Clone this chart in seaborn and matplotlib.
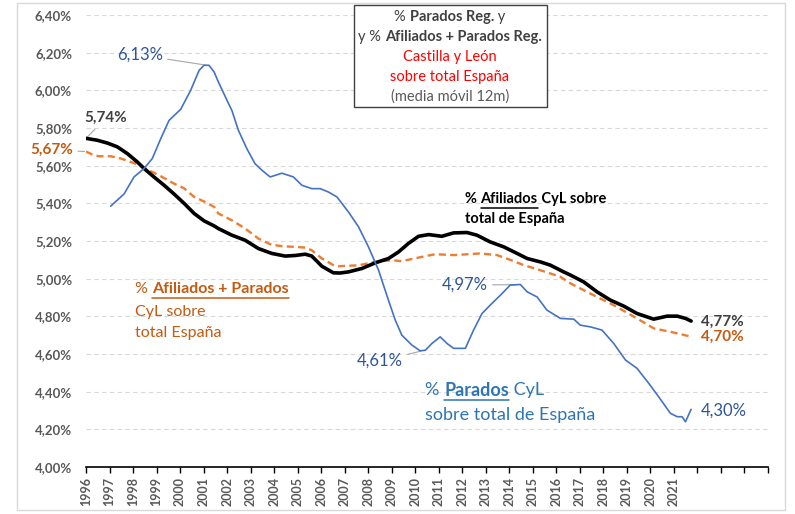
import matplotlib
matplotlib.use("Agg")
import matplotlib.pyplot as plt
import seaborn as sns
from matplotlib.lines import Line2D
from matplotlib.patches import Rectangle

# % Afiliados CyL sobre total de España (media móvil 12m)
afil_x = [1996.00, 1996.48, 1996.91, 1997.33, 1997.76, 1998.18, 1998.47, 1998.89, 1999.32,
          1999.74, 2000.17, 2000.60, 2001.02, 2001.45, 2001.63, 2002.20, 2002.77, 2003.33,
          2003.90, 2004.47, 2004.89, 2005.32, 2005.60, 2006.03, 2006.52, 2006.80, 2007.16,
          2007.73, 2008.30, 2008.86, 2009.29, 2009.71, 2010.14, 2010.57, 2011.13, 2011.63,
          2012.20, 2012.62, 2013.19, 2013.76, 2014.33, 2014.76, 2015.32, 2015.74, 2016.31,
          2016.60, 2017.16, 2017.73, 2018.30, 2018.87, 2019.43, 2020.14, 2020.71, 2021.14,
          2021.49, 2021.73]
afil_y = [5.745, 5.735, 5.720, 5.700, 5.664, 5.620, 5.585, 5.540, 5.496,
          5.450, 5.400, 5.346, 5.307, 5.280, 5.266, 5.231, 5.204, 5.160,
          5.134, 5.120, 5.123, 5.130, 5.120, 5.066, 5.031, 5.030, 5.036,
          5.054, 5.084, 5.107, 5.142, 5.187, 5.225, 5.234, 5.225, 5.243,
          5.245, 5.231, 5.195, 5.169, 5.134, 5.107, 5.089, 5.072, 5.036,
          5.019, 4.983, 4.930, 4.886, 4.854, 4.815, 4.785, 4.801, 4.801,
          4.789, 4.775]

# % Afiliados + Parados CyL sobre total España
ap_x = [1996.00, 1996.34, 1996.55, 1997.05, 1997.48, 1998.04, 1998.61, 1999.18, 1999.74,
        2000.17, 2000.60, 2001.02, 2001.45, 2001.63, 2002.20, 2002.77, 2003.33, 2003.83,
        2004.33, 2004.89, 2005.32, 2005.60, 2006.03, 2006.52, 2006.74, 2007.59, 2008.30,
        2009.00, 2009.43, 2010.14, 2010.85, 2011.63, 2012.77, 2013.48, 2014.04, 2014.61,
        2015.32, 2016.17, 2016.60, 2017.16, 2017.73, 2018.30, 2018.87, 2019.43, 2020.14,
        2020.85, 2021.63, 2021.73]
ap_y = [5.675, 5.655, 5.650, 5.650, 5.638, 5.614, 5.580, 5.544, 5.505,
        5.480, 5.434, 5.410, 5.381, 5.346, 5.310, 5.266, 5.213, 5.183,
        5.172, 5.169, 5.165, 5.151, 5.107, 5.072, 5.066, 5.071, 5.089,
        5.098, 5.093, 5.112, 5.130, 5.125, 5.134, 5.125, 5.100, 5.072,
        5.045, 5.010, 4.975, 4.939, 4.903, 4.868, 4.829, 4.789, 4.736,
        4.718, 4.695, 4.695]

# % Parados CyL sobre total de España
par_x = [1997.05, 1997.62, 1998.04, 1998.47, 1998.82, 1999.18, 1999.53, 2000.03, 2000.45,
         2000.81, 2001.02, 2001.23, 2001.45, 2001.63, 2002.06, 2002.20, 2002.48, 2002.84,
         2003.19, 2003.48, 2003.83, 2004.33, 2004.82, 2005.18, 2005.60, 2005.96, 2006.31,
         2006.67, 2007.16, 2007.59, 2008.01, 2008.44, 2008.86, 2009.15, 2009.43, 2009.86,
         2010.21, 2010.43, 2010.71, 2011.06, 2011.35, 2011.63, 2012.13, 2012.48, 2012.84,
         2013.19, 2013.62, 2014.04, 2014.47, 2014.76, 2015.18, 2015.60, 2016.17, 2016.74,
         2017.02, 2017.45, 2017.94, 2018.44, 2018.94, 2019.43, 2019.93, 2020.35, 2020.85,
         2021.14, 2021.35, 2021.49, 2021.73]
par_y = [5.385, 5.450, 5.540, 5.585, 5.638, 5.744, 5.840, 5.900, 6.000,
         6.106, 6.133, 6.133, 6.097, 6.044, 5.930, 5.894, 5.788, 5.690,
         5.610, 5.576, 5.540, 5.560, 5.540, 5.496, 5.478, 5.478, 5.460,
         5.434, 5.354, 5.275, 5.169, 5.045, 4.886, 4.780, 4.700, 4.647,
         4.617, 4.620, 4.656, 4.691, 4.656, 4.630, 4.630, 4.727, 4.815,
         4.860, 4.912, 4.966, 4.969, 4.930, 4.903, 4.833, 4.789, 4.785,
         4.753, 4.744, 4.727, 4.656, 4.568, 4.524, 4.444, 4.373, 4.285,
         4.267, 4.267, 4.240, 4.306]

years = list(range(1996, 2026))
year_labels = [str(y) if y <= 2021 else "" for y in years]
y_ticks = [4.0, 4.2, 4.4, 4.6, 4.8, 5.0, 5.2, 5.4, 5.6, 5.8, 6.0, 6.2, 6.4]

sns.set_style("white")
plt.rcParams['font.family'] = ['Lato', 'DejaVu Sans']

W, H = 795, 514
fig = plt.figure(figsize=(W / 100, H / 100), dpi=100)
ax = fig.add_axes([86 / W, 1 - 467 / H, (768 - 86) / W, (467 - 15) / H])

sns.lineplot(x=ap_x, y=ap_y, ax=ax, color="#ED7D31", lw=1.7, linestyle=(0, (3, 1.8)), zorder=3)
sns.lineplot(x=afil_x, y=afil_y, ax=ax, color="black", lw=2.6, zorder=4)
sns.lineplot(x=par_x, y=par_y, ax=ax, color="#4472C4", lw=1.2, zorder=5)

ax.set_xlim(1996, 2025)
ax.set_ylim(4.0, 6.4)
ax.set_xticks(years)
ax.set_xticklabels(year_labels, rotation=90, fontsize=9, fontweight="bold", color="#595959")
ax.set_yticks(y_ticks)
ax.set_yticklabels([f"{v:.2f}%".replace(".", ",") for v in y_ticks],
                   fontsize=9.5, fontweight="bold", color="#595959")
ax.tick_params(axis="x", direction="out", length=4, width=1, color="black", pad=3, bottom=True)
ax.tick_params(axis="y", length=0, pad=10)
ax.yaxis.grid(True, linestyle=(0, (4, 3)), color="#D9D9D9", lw=0.8)
ax.xaxis.grid(False)
for s in ["left", "right", "top"]:
    ax.spines[s].set_visible(False)
ax.spines["bottom"].set_color("black")
ax.spines["bottom"].set_linewidth(1.2)
ax.set_axisbelow(True)

# outer chart border
fig.add_artist(Rectangle((17 / W, 1 - 510 / H), (785 - 17) / W, (510 - 3) / H,
                         transform=fig.transFigure, fill=False, edgecolor="#D9D9D9", lw=1))

renderer = fig.canvas.get_renderer()


def text_width(s, size, weight):
    t = fig.text(0, 0, "|" + s + "|", fontsize=size, fontweight=weight)
    t2 = fig.text(0, 0, "||", fontsize=size, fontweight=weight)
    w = t.get_window_extent(renderer).width - t2.get_window_extent(renderer).width
    t.remove()
    t2.remove()
    return w


def rich_line(x, y, parts, color, size, ha="left"):
    # parts: (text, bold, underline); x, y in pixels from top-left
    widths = [text_width(s, size, "bold" if b else "normal") for s, b, u in parts]
    x0 = x - sum(widths) / 2 if ha == "center" else x
    for (s, b, u), w in zip(parts, widths):
        t = fig.text(x0 / W, 1 - y / H, s, fontsize=size, color=color, zorder=10,
                     fontweight="bold" if b else "normal", va="center", ha="left")
        if u:
            bb = t.get_window_extent(renderer)
            yy = bb.y0 - 1.5
            fig.add_artist(Line2D([bb.x0 / W, bb.x1 / W], [yy / H, yy / H],
                                  transform=fig.transFigure, color=color, lw=1.1))
        x0 += w


# title box
fig.add_artist(Rectangle((354 / W, 1 - 107 / H), (547 - 354) / W, (107 - 5) / H,
                         transform=fig.transFigure, fill=True, facecolor="white",
                         edgecolor="#404040", lw=1, zorder=6))
rich_line(450, 17, [("% ", False, False), ("Parados Reg.", True, False), (" y", False, False)], "#404040", 10.5, "center")
rich_line(450, 37, [("y % ", False, False), ("Afiliados + Parados Reg.", True, False)], "#404040", 10.5, "center")
rich_line(450, 57, [("Castilla y León", False, False)], "#FF0000", 10.5, "center")
rich_line(450, 77, [("sobre total España", False, False)], "#FF0000", 10.5, "center")
rich_line(450, 97, [("(media móvil 12m)", False, False)], "#595959", 10.5, "center")

# series labels
rich_line(465, 199, [("% ", True, False), ("Afiliados", True, True), (" CyL sobre", True, False)], "black", 10.5)
rich_line(465, 219, [("total de España", True, False)], "black", 10.5)

rich_line(135, 289, [("% ", False, False), ("Afiliados + Parados", True, True)], "#C55A11", 11.5)
rich_line(135, 312, [("CyL sobre", False, False)], "#C55A11", 11.5)
rich_line(135, 333, [("total España", False, False)], "#C55A11", 11.5)

rich_line(425, 390, [("% ", False, False), ("Parados", True, True), (" CyL", False, False)], "#2E75B6", 13)
rich_line(425, 415, [("sobre total de España", False, False)], "#2E75B6", 13)

# value annotations
lead = dict(arrowstyle="-", color="#A6A6A6", lw=0.8, shrinkA=1, shrinkB=1)
notes = [
    ("5,74%", (1996.0, 5.745), (106, 118), "bold", "#404040", 11, True),
    ("5,67%", (1996.0, 5.675), (52, 150), "bold", "#C55A11", 11, True),
    ("6,13%", (2001.15, 6.133), (140, 55), "normal", "#2F5597", 12, True),
    ("4,61%", (2010.30, 4.617), (380, 361), "normal", "#2F5597", 12, True),
    ("4,97%", (2014.34, 4.968), (465, 285), "normal", "#2F5597", 12, True),
    ("4,77%", None, (722, 322), "bold", "#404040", 11, False),
    ("4,70%", None, (722, 337), "bold", "#C55A11", 11, False),
    ("4,30%", None, (724, 411), "normal", "#2F5597", 12, False),
]
for txt, xy, pos, wt, col, sz, arrow in notes:
    if arrow:
        ax.annotate(txt, xy=xy, xycoords="data", xytext=(pos[0], H - pos[1]),
                    textcoords="figure pixels", ha="center", va="center",
                    fontsize=sz, fontweight=wt, color=col, arrowprops=lead,
                    annotation_clip=False)
    else:
        fig.text(pos[0] / W, 1 - pos[1] / H, txt, ha="center", va="center",
                 fontsize=sz, fontweight=wt, color=col)

fig.savefig("out.png", dpi=100)
